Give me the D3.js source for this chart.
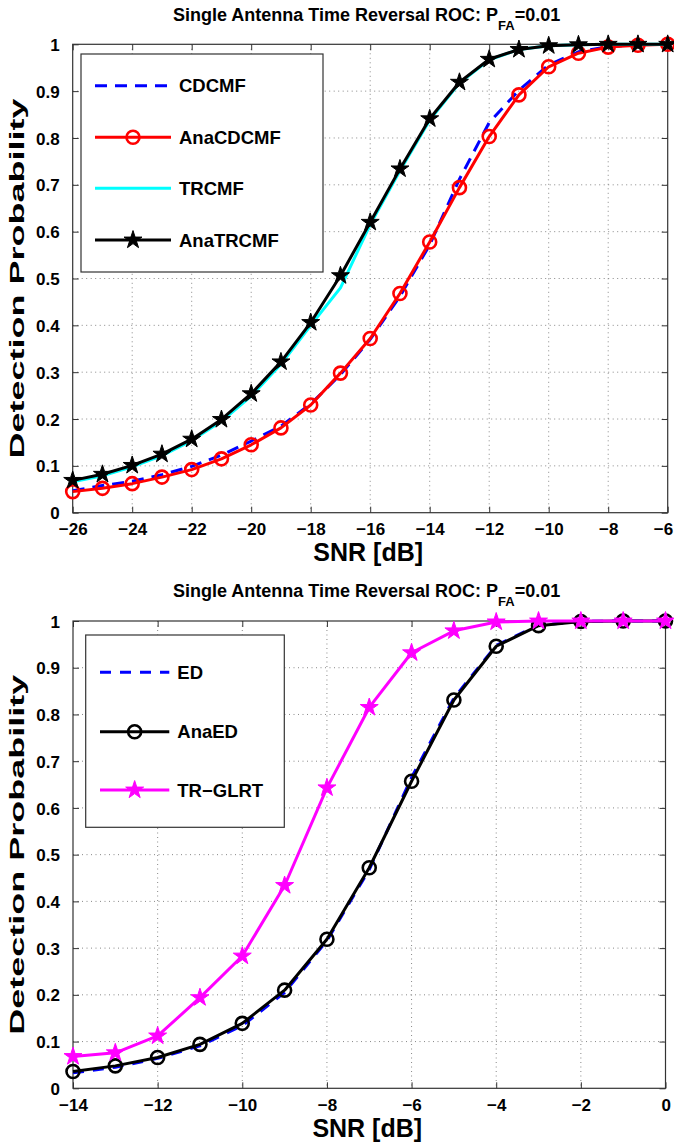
<!DOCTYPE html>
<html>
<head>
<meta charset="utf-8">
<script src="https://cdn.jsdelivr.net/npm/d3@7"></script>
<style>
    body { margin: 0; background: #fff; }
    svg text { font-family: "Liberation Sans", Arial, Helvetica, sans-serif; font-weight: bold; fill: #000; }
</style>
</head>
<body>
<div id="chart"></div>
<script>
// ---- data ----
// upper panel: SNR in dB
const snrUpper = [-26, -25, -24, -23, -22, -21, -20, -19, -18, -17, -16, -15, -14, -13, -12, -11, -10, -9, -8, -7, -6];
const cdcmf    = [0.047, 0.058, 0.067, 0.081, 0.099, 0.123, 0.153, 0.185, 0.232, 0.295, 0.370, 0.462, 0.572, 0.712, 0.833, 0.902, 0.956, 0.984, 0.995, 0.999, 1.0];
const anaCdcmf = [0.045, 0.052, 0.062, 0.076, 0.092, 0.115, 0.145, 0.181, 0.230, 0.298, 0.372, 0.468, 0.578, 0.694, 0.803, 0.892, 0.952, 0.981, 0.994, 0.998, 1.0];
const trcmf    = [0.066, 0.079, 0.098, 0.122, 0.154, 0.195, 0.249, 0.317, 0.400, 0.480, 0.615, 0.730, 0.838, 0.917, 0.967, 0.989, 0.997, 0.999, 1.0, 1.0, 1.0];
const anaTrcmf = [0.069, 0.082, 0.101, 0.125, 0.157, 0.199, 0.254, 0.322, 0.406, 0.506, 0.620, 0.734, 0.841, 0.919, 0.968, 0.989, 0.997, 0.999, 1.0, 1.0, 1.0];

// lower panel
const snrLower = [-14, -13, -12, -11, -10, -9, -8, -7, -6, -5, -4, -3, -2, -1, 0];
const ed     = [0.033, 0.045, 0.064, 0.091, 0.134, 0.205, 0.316, 0.468, 0.665, 0.835, 0.948, 0.991, 0.999, 1.0, 1.0];
const anaEd  = [0.036, 0.048, 0.066, 0.094, 0.139, 0.210, 0.319, 0.472, 0.657, 0.831, 0.946, 0.990, 0.999, 1.0, 1.0];
const trGlrt = [0.068, 0.076, 0.112, 0.194, 0.283, 0.434, 0.643, 0.815, 0.932, 0.979, 0.998, 1.0, 1.0, 1.0, 1.0];

const xTicksUpper = [-26, -24, -22, -20, -18, -16, -14, -12, -10, -8, -6];
const xTicksLower = [-14, -12, -10, -8, -6, -4, -2, 0];
const yTicks = [0, 0.1, 0.2, 0.3, 0.4, 0.5, 0.6, 0.7, 0.8, 0.9, 1];
const yTickLabels = ['0', '0.1', '0.2', '0.3', '0.4', '0.5', '0.6', '0.7', '0.8', '0.9', '1'];

const titleMain = 'Single Antenna Time Reversal ROC: P';
const titleSub = 'FA';
const titleEnd = '=0.01';
const xLabel = 'SNR [dB]';
const yLabel = 'Detection Probability';

// ---- layout ----
const config = {
    width: 674,
    height: 1146,
    tick: 6,
};

const svg = d3.select('#chart')
    .append('svg')
    .attr('width', config.width)
    .attr('height', config.height)
;

const panels = [
    {
        left: 72.7, right: 667.7, top: 44.3, bottom: 512.7,
        x: snrUpper, xTicks: xTicksUpper,
        legend: { x: 81, y: 54, w: 242, h: 218, rowY: [31.7, 83.3, 134.3, 186], lineX: [14, 90], textX: 98 },
        series: [
            { name: 'CDCMF', values: cdcmf, color: '#0000ff', dash: '12,8', marker: null },
            { name: 'AnaCDCMF', values: anaCdcmf, color: '#ff0000', marker: 'circle' },
            { name: 'TRCMF', values: trcmf, color: '#00ffff', marker: null },
            { name: 'AnaTRCMF', values: anaTrcmf, color: '#000000', marker: 'star' },
        ],
    },
    {
        left: 73, right: 665.5, top: 621, bottom: 1088.3,
        x: snrLower, xTicks: xTicksLower,
        legend: { x: 85.7, y: 635, w: 198.6, h: 192.3, rowY: [37.3, 96.7, 155], lineX: [14.3, 83.6], textX: 91.6 },
        series: [
            { name: 'ED', values: ed, color: '#0000ff', dash: '11,9', marker: null },
            { name: 'AnaED', values: anaEd, color: '#000000', marker: 'circle' },
            { name: 'TR\u2212GLRT', values: trGlrt, color: '#ff00ff', marker: 'star' },
        ],
    },
];

const starPath = d3.symbol().type(d3.symbolStar).size(100)();

function drawMarker(g, kind, color, x, y) {
    if (kind === 'circle') {
        g.append('circle')
            .attr('cx', x)
            .attr('cy', y)
            .attr('r', 6.5)
            .attr('fill', 'none')
            .attr('stroke', color)
            .attr('stroke-width', 2.6)
        ;
    } else if (kind === 'star') {
        g.append('path')
            .attr('d', starPath)
            .attr('transform', `translate(${x},${y})`)
            .attr('fill', color)
            .attr('stroke', color)
            .attr('stroke-width', 1)
        ;
    }
}

panels.forEach(p => {
    const xScale = d3.scaleLinear()
        .domain([p.xTicks[0], p.xTicks[p.xTicks.length - 1]])
        .range([p.left, p.right])
    ;
    const yScale = d3.scaleLinear()
        .domain([0, 1])
        .range([p.bottom, p.top])
    ;

    // dotted grid
    const grid = svg.append('g').attr('class', 'grid');
    grid.selectAll('.vgrid')
        .data(p.xTicks.slice(1, -1))
        .enter()
        .append('line')
        .attr('x1', d => xScale(d))
        .attr('x2', d => xScale(d))
        .attr('y1', p.top)
        .attr('y2', p.bottom)
    ;
    grid.selectAll('.hgrid')
        .data(yTicks.slice(1, -1))
        .enter()
        .append('line')
        .attr('x1', p.left)
        .attr('x2', p.right)
        .attr('y1', d => yScale(d))
        .attr('y2', d => yScale(d))
    ;
    grid.selectAll('line')
        .attr('stroke', '#888')
        .attr('stroke-width', 1)
        .attr('stroke-dasharray', '1,3.5')
    ;

    // axes: bottom and left carry labels, the other two only ticks (box on)
    const xAxis = d3.axisBottom(xScale)
        .tickValues(p.xTicks)
        .tickSizeInner(-config.tick)
        .tickSizeOuter(0)
        .tickPadding(12)
        .tickFormat(d3.format('d'))
    ;
    const yAxis = d3.axisLeft(yScale)
        .tickValues(yTicks)
        .tickSizeInner(-config.tick)
        .tickSizeOuter(0)
        .tickPadding(13)
        .tickFormat((d, i) => yTickLabels[i])
    ;

    svg.append('g')
        .attr('transform', `translate(0,${p.bottom})`)
        .call(xAxis)
        .call(g => g.selectAll('text').attr('font-size', 17).attr('dy', '0.62em'))
        // last label sits at the figure edge, keep it inside
        .call(g => g.selectAll('.tick:last-of-type text').attr('text-anchor', 'end').attr('dx', 5))
    ;
    svg.append('g')
        .attr('transform', `translate(0,${p.top})`)
        .call(d3.axisTop(xScale).tickValues(p.xTicks).tickSizeInner(-config.tick).tickSizeOuter(0).tickFormat(''))
    ;
    svg.append('g')
        .attr('transform', `translate(${p.left},0)`)
        .call(yAxis)
        .call(g => g.selectAll('text').attr('font-size', 17).attr('dy', '0.36em'))
    ;
    svg.append('g')
        .attr('transform', `translate(${p.right},0)`)
        .call(d3.axisRight(yScale).tickValues(yTicks).tickSizeInner(-config.tick).tickSizeOuter(0).tickFormat(''))
    ;
    svg.selectAll('.domain').remove();
    svg.selectAll('.tick line').attr('stroke', '#333');

    // axes box
    svg.append('rect')
        .attr('x', p.left)
        .attr('y', p.top)
        .attr('width', p.right - p.left)
        .attr('height', p.bottom - p.top)
        .attr('fill', 'none')
        .attr('stroke', '#333')
        .attr('stroke-width', 1.2)
    ;

    // curves, in plot order
    const line = d3.line()
        .x((d, i) => xScale(p.x[i]))
        .y(d => yScale(d))
    ;
    p.series.forEach(s => {
        const g = svg.append('g');
        g.append('path')
            .attr('d', line(s.values))
            .attr('fill', 'none')
            .attr('stroke', s.color)
            .attr('stroke-width', 3)
            .attr('stroke-linejoin', 'round')
            .attr('stroke-dasharray', s.dash || null)
        ;
        if (s.marker) {
            s.values.forEach((v, i) => drawMarker(g, s.marker, s.color, xScale(p.x[i]), yScale(v)));
        }
    });

    // legend
    const L = p.legend;
    const lg = svg.append('g').attr('transform', `translate(${L.x},${L.y})`);
    lg.append('rect')
        .attr('width', L.w)
        .attr('height', L.h)
        .attr('fill', '#fff')
        .attr('stroke', '#333')
        .attr('stroke-width', 1.2)
    ;
    p.series.forEach((s, i) => {
        const y = L.rowY[i];
        lg.append('line')
            .attr('x1', L.lineX[0])
            .attr('x2', L.lineX[1])
            .attr('y1', y)
            .attr('y2', y)
            .attr('stroke', s.color)
            .attr('stroke-width', 3)
            .attr('stroke-dasharray', s.dash || null)
        ;
        drawMarker(lg, s.marker, s.color, (L.lineX[0] + L.lineX[1]) / 2, y);
        lg.append('text')
            .attr('x', L.textX)
            .attr('y', y)
            .attr('dy', '0.36em')
            .attr('font-size', 18.5)
            .text(s.name)
        ;
    });

    // title with subscript
    const title = svg.append('text')
        .attr('x', 173)
        .attr('y', p.top - 23.7)
        .attr('font-size', 18)
    ;
    title.append('tspan').text(titleMain);
    title.append('tspan').attr('dy', 9).attr('font-size', 13).text(titleSub);
    title.append('tspan').attr('dy', -9).text(titleEnd);

    // axis labels
    svg.append('text')
        .attr('x', (p.left + p.right) / 2 - 2)
        .attr('y', p.bottom + 48.7)
        .attr('text-anchor', 'middle')
        .attr('font-size', 25)
        .text(xLabel)
    ;
    const cy = (p.top + p.bottom) / 2;
    svg.append('text')
        .attr('transform', `translate(24,${cy}) rotate(-90)`)
        .attr('text-anchor', 'middle')
        .attr('font-size', 21)
        .attr('textLength', 360)
        .attr('lengthAdjust', 'spacingAndGlyphs')
        .text(yLabel)
    ;
});
</script>
</body>
</html>
